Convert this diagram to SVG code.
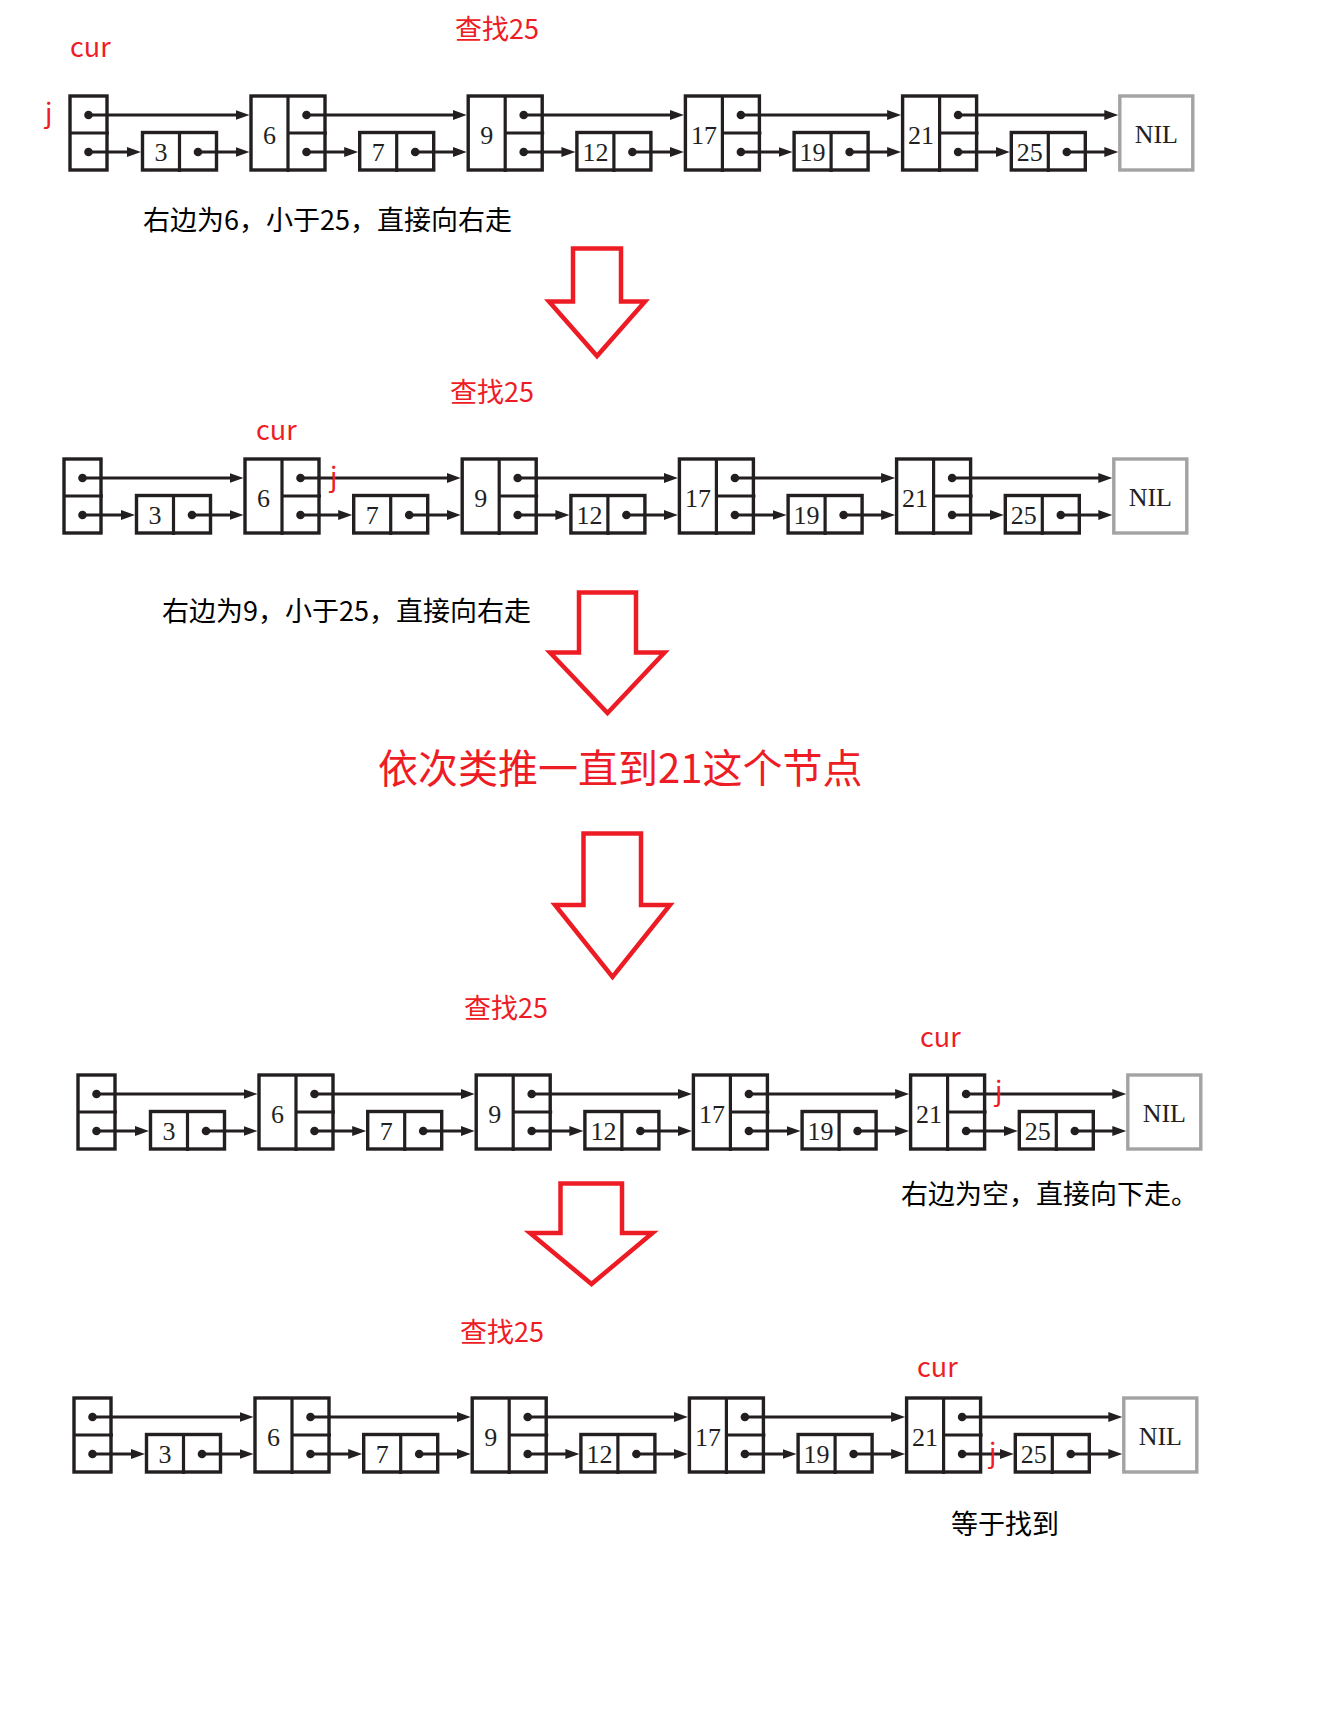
<svg xmlns="http://www.w3.org/2000/svg" xmlns:xlink="http://www.w3.org/1999/xlink" width="1327" height="1717" viewBox="0 0 1327 1717">
<style>
.box{fill:#fff;stroke:#231f20;stroke-width:3.4}
.nil{fill:#fff;stroke:#a3a3a3;stroke-width:3.4}
.ln{stroke:#231f20;stroke-width:3.2;fill:none}
.dot{fill:#231f20}
.num{font-family:"Liberation Serif",serif;font-size:26px;fill:#231f20;text-anchor:middle}
.ptr{stroke:#231f20;stroke-width:3;fill:none;marker-end:url(#ah)}
.red{fill:#ee1c25;font-family:"Noto Sans CJK SC",sans-serif;font-size:27px}
.blk{fill:#000;font-family:"Noto Sans CJK SC",sans-serif;font-size:27px}
.big{fill:#fff;stroke:#ed1c24;stroke-width:4.5;stroke-linejoin:miter}
</style>
<defs>
<marker id="ah" markerUnits="userSpaceOnUse" markerWidth="15" markerHeight="11" refX="6" refY="5" orient="auto"><path d="M0,0L14,5L0,10z" fill="#231f20"/></marker>
<g id="tall"><rect class="box" x="0" y="0" width="74" height="74"/><path class="ln" d="M37,0V76M37,37H76"/><circle class="dot" cx="55.5" cy="19" r="4.3"/><circle class="dot" cx="55.5" cy="56" r="4.3"/></g>
<g id="small"><rect class="box" x="0" y="36.5" width="74" height="37.5"/><path class="ln" d="M37,36.5V76"/><circle class="dot" cx="55.5" cy="56" r="4.3"/></g>
<g id="headbox"><rect class="box" x="0" y="0" width="37" height="74"/><path class="ln" d="M0,37H39"/><circle class="dot" cx="18.5" cy="19" r="4.3"/><circle class="dot" cx="18.5" cy="56" r="4.3"/></g>
<g id="nilbox"><rect class="nil" x="0" y="0" width="73" height="74"/><text class="num" x="36.5" y="46.5">NIL</text></g>
</defs>
<rect width="1327" height="1717" fill="#fff"/>

<!-- ROW 1 -->
<g id="row1" transform="translate(70,96)">
<g id="r1-head"><use href="#headbox"/></g>
<g id="r1-n3" transform="translate(72.5,0)"><use href="#small"/><text class="num" x="18.5" y="65">3</text></g>
<g id="r1-n6" transform="translate(181,0)"><use href="#tall"/><text class="num" x="18.5" y="48">6</text></g>
<g id="r1-n7" transform="translate(289.7,0)"><use href="#small"/><text class="num" x="18.5" y="65">7</text></g>
<g id="r1-n9" transform="translate(398.2,0)"><use href="#tall"/><text class="num" x="18.5" y="48">9</text></g>
<g id="r1-n12" transform="translate(506.9,0)"><use href="#small"/><text class="num" x="18.5" y="65">12</text></g>
<g id="r1-n17" transform="translate(615.4,0)"><use href="#tall"/><text class="num" x="18.5" y="48">17</text></g>
<g id="r1-n19" transform="translate(724.1,0)"><use href="#small"/><text class="num" x="18.5" y="65">19</text></g>
<g id="r1-n21" transform="translate(832.6,0)"><use href="#tall"/><text class="num" x="18.5" y="48">21</text></g>
<g id="r1-n25" transform="translate(941.3,0)"><use href="#small"/><text class="num" x="18.5" y="65">25</text></g>
<g id="r1-nil" transform="translate(1049.8,0)"><use href="#nilbox"/></g>
</g>

<!-- ROW 2 -->
<g id="row2" transform="translate(64,459)">
<g id="r2-head"><use href="#headbox"/></g>
<g id="r2-n3" transform="translate(72.5,0)"><use href="#small"/><text class="num" x="18.5" y="65">3</text></g>
<g id="r2-n6" transform="translate(181,0)"><use href="#tall"/><text class="num" x="18.5" y="48">6</text></g>
<g id="r2-n7" transform="translate(289.7,0)"><use href="#small"/><text class="num" x="18.5" y="65">7</text></g>
<g id="r2-n9" transform="translate(398.2,0)"><use href="#tall"/><text class="num" x="18.5" y="48">9</text></g>
<g id="r2-n12" transform="translate(506.9,0)"><use href="#small"/><text class="num" x="18.5" y="65">12</text></g>
<g id="r2-n17" transform="translate(615.4,0)"><use href="#tall"/><text class="num" x="18.5" y="48">17</text></g>
<g id="r2-n19" transform="translate(724.1,0)"><use href="#small"/><text class="num" x="18.5" y="65">19</text></g>
<g id="r2-n21" transform="translate(832.6,0)"><use href="#tall"/><text class="num" x="18.5" y="48">21</text></g>
<g id="r2-n25" transform="translate(941.3,0)"><use href="#small"/><text class="num" x="18.5" y="65">25</text></g>
<g id="r2-nil" transform="translate(1049.8,0)"><use href="#nilbox"/></g>
</g>

<!-- ROW 3 -->
<g id="row3" transform="translate(78,1075)">
<g id="r3-head"><use href="#headbox"/></g>
<g id="r3-n3" transform="translate(72.5,0)"><use href="#small"/><text class="num" x="18.5" y="65">3</text></g>
<g id="r3-n6" transform="translate(181,0)"><use href="#tall"/><text class="num" x="18.5" y="48">6</text></g>
<g id="r3-n7" transform="translate(289.7,0)"><use href="#small"/><text class="num" x="18.5" y="65">7</text></g>
<g id="r3-n9" transform="translate(398.2,0)"><use href="#tall"/><text class="num" x="18.5" y="48">9</text></g>
<g id="r3-n12" transform="translate(506.9,0)"><use href="#small"/><text class="num" x="18.5" y="65">12</text></g>
<g id="r3-n17" transform="translate(615.4,0)"><use href="#tall"/><text class="num" x="18.5" y="48">17</text></g>
<g id="r3-n19" transform="translate(724.1,0)"><use href="#small"/><text class="num" x="18.5" y="65">19</text></g>
<g id="r3-n21" transform="translate(832.6,0)"><use href="#tall"/><text class="num" x="18.5" y="48">21</text></g>
<g id="r3-n25" transform="translate(941.3,0)"><use href="#small"/><text class="num" x="18.5" y="65">25</text></g>
<g id="r3-nil" transform="translate(1049.8,0)"><use href="#nilbox"/></g>
</g>

<!-- ROW 4 -->
<g id="row4" transform="translate(74,1398)">
<g id="r4-head"><use href="#headbox"/></g>
<g id="r4-n3" transform="translate(72.5,0)"><use href="#small"/><text class="num" x="18.5" y="65">3</text></g>
<g id="r4-n6" transform="translate(181,0)"><use href="#tall"/><text class="num" x="18.5" y="48">6</text></g>
<g id="r4-n7" transform="translate(289.7,0)"><use href="#small"/><text class="num" x="18.5" y="65">7</text></g>
<g id="r4-n9" transform="translate(398.2,0)"><use href="#tall"/><text class="num" x="18.5" y="48">9</text></g>
<g id="r4-n12" transform="translate(506.9,0)"><use href="#small"/><text class="num" x="18.5" y="65">12</text></g>
<g id="r4-n17" transform="translate(615.4,0)"><use href="#tall"/><text class="num" x="18.5" y="48">17</text></g>
<g id="r4-n19" transform="translate(724.1,0)"><use href="#small"/><text class="num" x="18.5" y="65">19</text></g>
<g id="r4-n21" transform="translate(832.6,0)"><use href="#tall"/><text class="num" x="18.5" y="48">21</text></g>
<g id="r4-n25" transform="translate(941.3,0)"><use href="#small"/><text class="num" x="18.5" y="65">25</text></g>
<g id="r4-nil" transform="translate(1049.8,0)"><use href="#nilbox"/></g>
</g>

<!-- CONNECTORS -->
<g id="connectors">
<g id="r1-links" transform="translate(70,96)">
<path class="ptr" d="M18.5,19H171.5"/><path class="ptr" d="M236.5,19H388.7"/><path class="ptr" d="M453.7,19H605.9"/><path class="ptr" d="M670.9,19H823.1"/><path class="ptr" d="M888.1,19H1040.3"/>
<path class="ptr" d="M18.5,56H63"/><path class="ptr" d="M128,56H171.5"/><path class="ptr" d="M236.5,56H280.2"/><path class="ptr" d="M345.2,56H388.7"/><path class="ptr" d="M453.7,56H497.4"/><path class="ptr" d="M562.4,56H605.9"/><path class="ptr" d="M670.9,56H714.6"/><path class="ptr" d="M779.6,56H823.1"/><path class="ptr" d="M888.1,56H931.8"/><path class="ptr" d="M996.8,56H1040.3"/>
</g>
<g id="r2-links" transform="translate(64,459)">
<path class="ptr" d="M18.5,19H171.5"/><path class="ptr" d="M236.5,19H388.7"/><path class="ptr" d="M453.7,19H605.9"/><path class="ptr" d="M670.9,19H823.1"/><path class="ptr" d="M888.1,19H1040.3"/>
<path class="ptr" d="M18.5,56H63"/><path class="ptr" d="M128,56H171.5"/><path class="ptr" d="M236.5,56H280.2"/><path class="ptr" d="M345.2,56H388.7"/><path class="ptr" d="M453.7,56H497.4"/><path class="ptr" d="M562.4,56H605.9"/><path class="ptr" d="M670.9,56H714.6"/><path class="ptr" d="M779.6,56H823.1"/><path class="ptr" d="M888.1,56H931.8"/><path class="ptr" d="M996.8,56H1040.3"/>
</g>
<g id="r3-links" transform="translate(78,1075)">
<path class="ptr" d="M18.5,19H171.5"/><path class="ptr" d="M236.5,19H388.7"/><path class="ptr" d="M453.7,19H605.9"/><path class="ptr" d="M670.9,19H823.1"/><path class="ptr" d="M888.1,19H1040.3"/>
<path class="ptr" d="M18.5,56H63"/><path class="ptr" d="M128,56H171.5"/><path class="ptr" d="M236.5,56H280.2"/><path class="ptr" d="M345.2,56H388.7"/><path class="ptr" d="M453.7,56H497.4"/><path class="ptr" d="M562.4,56H605.9"/><path class="ptr" d="M670.9,56H714.6"/><path class="ptr" d="M779.6,56H823.1"/><path class="ptr" d="M888.1,56H931.8"/><path class="ptr" d="M996.8,56H1040.3"/>
</g>
<g id="r4-links" transform="translate(74,1398)">
<path class="ptr" d="M18.5,19H171.5"/><path class="ptr" d="M236.5,19H388.7"/><path class="ptr" d="M453.7,19H605.9"/><path class="ptr" d="M670.9,19H823.1"/><path class="ptr" d="M888.1,19H1040.3"/>
<path class="ptr" d="M18.5,56H63"/><path class="ptr" d="M128,56H171.5"/><path class="ptr" d="M236.5,56H280.2"/><path class="ptr" d="M345.2,56H388.7"/><path class="ptr" d="M453.7,56H497.4"/><path class="ptr" d="M562.4,56H605.9"/><path class="ptr" d="M670.9,56H714.6"/><path class="ptr" d="M779.6,56H823.1"/><path class="ptr" d="M888.1,56H931.8"/><path class="ptr" d="M996.8,56H1040.3"/>
</g>
</g>

<!-- BIG ARROWS -->
<g id="down-arrows">
<polygon id="arrow1" class="big" points="573,248.5 621,248.5 621,301.5 645,301.5 597,356 549,301.5 573,301.5"/>
<polygon id="arrow2" class="big" points="579,592.5 636,592.5 636,652.5 664.5,652.5 607.5,713 550,652.5 579,652.5"/>
<polygon id="arrow3" class="big" points="583.5,833.5 641,833.5 641,905 670,905 612.5,977 555,905 583.5,905"/>
<polygon id="arrow4" class="big" points="560.5,1183.5 622,1183.5 622,1233 652.5,1233 591.5,1284 530,1233 560.5,1233"/>
</g>

<!-- LABELS -->
<g id="labels">
<text class="red" x="70" y="57">cur</text>
<text class="red" x="45" y="123">j</text>
<text class="red" x="455" y="39">查找25</text>
<text class="blk" x="143" y="230">右边为6，小于25，直接向右走</text>

<text class="red" x="450" y="402">查找25</text>
<text class="red" x="256" y="440">cur</text>
<text class="red" x="330" y="487">j</text>
<text class="blk" x="162" y="621">右边为9，小于25，直接向右走</text>

<text class="red" x="378" y="783" style="font-size:40px">依次类推一直到21这个节点</text>

<text class="red" x="464" y="1018">查找25</text>
<text class="red" x="920" y="1047">cur</text>
<text class="red" x="995" y="1101">j</text>
<text class="blk" x="901" y="1204">右边为空，直接向下走。</text>

<text class="red" x="460" y="1342">查找25</text>
<text class="red" x="917" y="1377">cur</text>
<text class="red" x="989" y="1463">j</text>
<text class="blk" x="951" y="1534">等于找到</text>
</g>
</svg>
